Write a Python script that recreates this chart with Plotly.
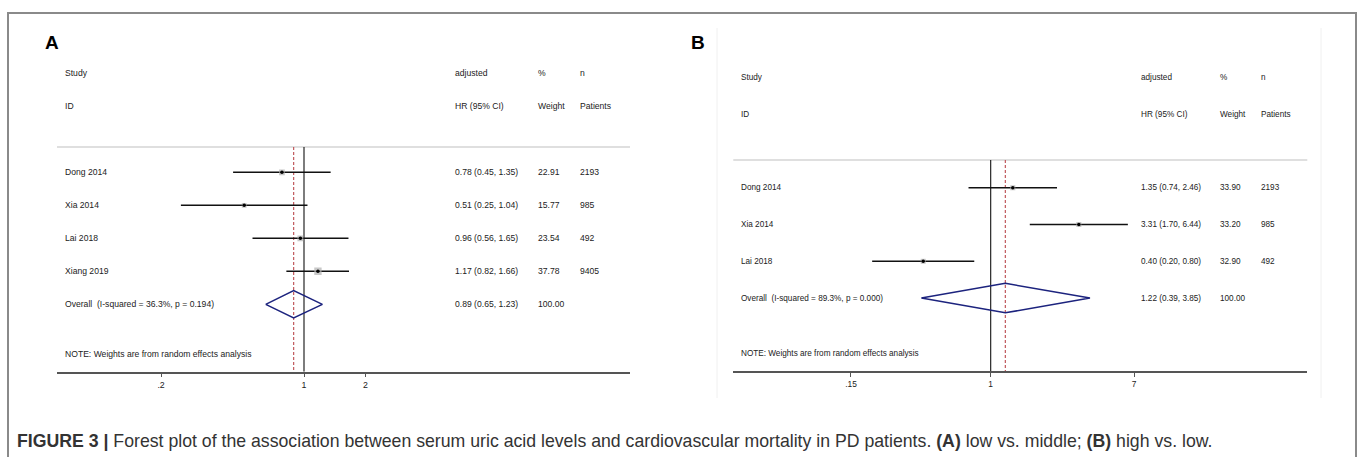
import plotly.graph_objects as go

W, H = 1357, 457

# ---------------- data ----------------
studies_a = ["Dong 2014", "Xia 2014", "Lai 2018", "Xiang 2019"]
hr_a = [0.78, 0.51, 0.96, 1.17]
lo_a = [0.45, 0.25, 0.56, 0.82]
hi_a = [1.35, 1.04, 1.65, 1.66]
weight_a = [22.91, 15.77, 23.54, 37.78]
n_a = [2193, 985, 492, 9405]
overall_a = [0.89, 0.65, 1.23]
overall_label_a = "Overall\u00a0 (I-squared = 36.3%, p = 0.194)"

studies_b = ["Dong 2014", "Xia 2014", "Lai 2018"]
hr_b = [1.35, 3.31, 0.40]
lo_b = [0.74, 1.70, 0.20]
hi_b = [2.46, 6.44, 0.80]
weight_b = [33.90, 33.20, 32.90]
n_b = [2193, 985, 492]
overall_b = [1.22, 0.39, 3.85]
overall_label_b = "Overall\u00a0 (I-squared = 89.3%, p = 0.000)"

ticks_a = [0.2, 1, 2]
ticktext_a = [".2", "1", "2"]
ticks_b = [0.15, 1, 7]
ticktext_b = [".15", "1", "7"]

header_cols = [["adjusted", "HR (95% CI)"], ["%", "Weight"], ["n", "Patients"]]
note_text = "NOTE: Weights are from random effects analysis"
caption = ("<b>FIGURE 3 |</b> Forest plot of the association between serum uric acid levels and "
           "cardiovascular mortality in PD patients. <b>(A)</b> low vs. middle; <b>(B)</b> high vs. low.")

FONT = "Liberation Sans, Arial, sans-serif"
TXT = "#222222"


def px(x):
    return x / W


def py(y):
    return 1 - y / H


fig = go.Figure()
annotations = []
shapes = []


def panel(xa, ya, studies, hr, lo, hi, weight, n, overall, overall_label,
          line_k, bottom_k, label_x, col_x, fsize, sq_k, diam_h):
    yref = ya

    def txt(x, y, t):
        annotations.append(dict(x=px(x), y=y, xref="paper", yref=yref, text=t,
                                showarrow=False, xanchor="left", yanchor="middle",
                                font=dict(size=fsize, color=TXT, family=FONT)))

    # header
    txt(label_x, 0, "Study")
    txt(label_x, 1, "ID")
    for cx, col in zip(col_x, header_cols):
        for k, t in enumerate(col):
            txt(cx, k, t)
    rows = [3 + i for i in range(len(studies))]
    k_over = 3 + len(studies)
    # header separator line
    fig.add_trace(go.Scatter(x=[1e-9, 1e9], y=[line_k, line_k], mode="lines",
                             line=dict(color="#d4d4d4", width=1.5), xaxis=xa, yaxis=ya,
                             hoverinfo="skip", showlegend=False))
    # null line
    fig.add_trace(go.Scatter(x=[1, 1], y=[line_k, bottom_k], mode="lines",
                             line=dict(color="#111111", width=1.1), xaxis=xa, yaxis=ya,
                             hoverinfo="skip", showlegend=False))
    # overall dashed line
    fig.add_trace(go.Scatter(x=[overall[0], overall[0]], y=[line_k, bottom_k], mode="lines",
                             line=dict(color="#c0585c", width=1.2, dash="3px,2px"),
                             xaxis=xa, yaxis=ya, hoverinfo="skip", showlegend=False))
    # CI lines
    xs, ys = [], []
    for r, l, h in zip(rows, lo, hi):
        xs += [l, h, None]
        ys += [r, r, None]
    fig.add_trace(go.Scatter(x=xs, y=ys, mode="lines", line=dict(color="#111111", width=1.4),
                             xaxis=xa, yaxis=ya, hoverinfo="skip", showlegend=False))
    # weight squares
    fig.add_trace(go.Scatter(x=hr, y=rows, mode="markers",
                             marker=dict(symbol="square", color="#b0b0b0",
                                         size=[sq_k * w ** 0.5 for w in weight],
                                         line=dict(width=0)),
                             xaxis=xa, yaxis=ya, hoverinfo="skip", showlegend=False))
    fig.add_trace(go.Scatter(x=hr, y=rows, mode="markers",
                             marker=dict(symbol="circle", color="#000000", size=3.5),
                             xaxis=xa, yaxis=ya, hoverinfo="skip", showlegend=False))
    # diamond
    est, l, h = overall
    fig.add_trace(go.Scatter(x=[l, est, h, est, l],
                             y=[k_over, k_over - diam_h, k_over, k_over + diam_h, k_over],
                             mode="lines", line=dict(color="#1c237e", width=1.5),
                             xaxis=xa, yaxis=ya, hoverinfo="skip", showlegend=False))
    # row texts
    for r, s, e, a, b, w, nn in zip(rows, studies, hr, lo, hi, weight, n):
        vals = [s, f"{e:.2f} ({a:.2f}, {b:.2f})", f"{w:.2f}", f"{nn}"]
        for cx, t in zip([label_x] + col_x, vals):
            txt(cx, r, t)
    over_vals = [overall_label, f"{est:.2f} ({l:.2f}, {h:.2f})", "100.00"]
    for cx, t in zip([label_x] + col_x[:2], over_vals):
        txt(cx, k_over, t)
    txt(label_x, k_over + 1.5, note_text)


panel("x", "y", studies_a, hr_a, lo_a, hi_a, weight_a, n_a, overall_a, overall_label_a,
      line_k=2.23, bottom_k=9.042, label_x=63, col_x=[453.3, 535.7, 578.3], fsize=8.6,
      sq_k=1.2, diam_h=0.415)
panel("x2", "y2", studies_b, hr_b, lo_b, hi_b, weight_b, n_b, overall_b, overall_label_b,
      line_k=2.25, bottom_k=7.981, label_x=739.3, col_x=[1139, 1218.3, 1259], fsize=8.2,
      sq_k=0.87, diam_h=0.40)

axis_common = dict(type="log", showline=True, linecolor="#555555", linewidth=1.5,
                   ticks="outside", ticklen=4, tickcolor="#555555", tickwidth=1,
                   showgrid=False, zeroline=False, fixedrange=True, mirror=False)

fig.update_layout(
    xaxis=dict(domain=[px(57), px(630)], range=[-1.2080, 1.5944], anchor="y",
               tickvals=ticks_a, ticktext=ticktext_a,
               tickfont=dict(size=8.8, color=TXT, family=FONT), **axis_common),
    yaxis=dict(domain=[py(371.7), py(50)], range=[9.042, -0.706], visible=False,
               anchor="x", fixedrange=True),
    xaxis2=dict(domain=[px(733.3), px(1307.3)], range=[-1.5178, 1.8669], anchor="y2",
                tickvals=ticks_b, ticktext=ticktext_b,
                tickfont=dict(size=8.4, color=TXT, family=FONT), **axis_common),
    yaxis2=dict(domain=[py(371), py(50)], range=[7.981, -0.742], visible=False,
                anchor="x2", fixedrange=True),
)

# panel letters
annotations.append(dict(x=px(51.5), y=py(42.5), xref="paper", yref="paper", text="<b>A</b>",
                        showarrow=False, xanchor="center", yanchor="middle",
                        font=dict(size=19, color="#000000", family=FONT)))
annotations.append(dict(x=px(698), y=py(42.5), xref="paper", yref="paper", text="<b>B</b>",
                        showarrow=False, xanchor="center", yanchor="middle",
                        font=dict(size=19, color="#000000", family=FONT)))
# caption
annotations.append(dict(x=px(15), y=py(441), xref="paper", yref="paper", text=caption,
                        showarrow=False, xanchor="left", yanchor="middle",
                        font=dict(size=17.7, color="#333333", family=FONT)))

# outer frame
shapes.append(dict(type="rect", xref="paper", yref="paper", x0=px(8), x1=px(1356),
                   y0=-0.2, y1=py(13), line=dict(color="#8a8a8a", width=2), layer="below"))
# faint panel-image edges in B
for ex in [717, 1321]:
    shapes.append(dict(type="line", xref="paper", yref="paper", x0=px(ex), x1=px(ex),
                       y0=py(398), y1=py(28), line=dict(color="#f0f0f0", width=1), layer="below"))

fig.update_layout(
    width=W, height=H, margin=dict(l=0, r=0, t=0, b=0),
    paper_bgcolor="white", plot_bgcolor="white",
    annotations=annotations, shapes=shapes, showlegend=False,
    font=dict(family=FONT, color=TXT),
)

fig.write_html(
    "out.html",
    config={"displayModeBar": False},
    post_script=("document.body.style.margin='0px';document.body.style.padding='0px';"
                 "document.documentElement.style.overflow='hidden';"
                 "document.body.style.overflow='hidden';"),
)
